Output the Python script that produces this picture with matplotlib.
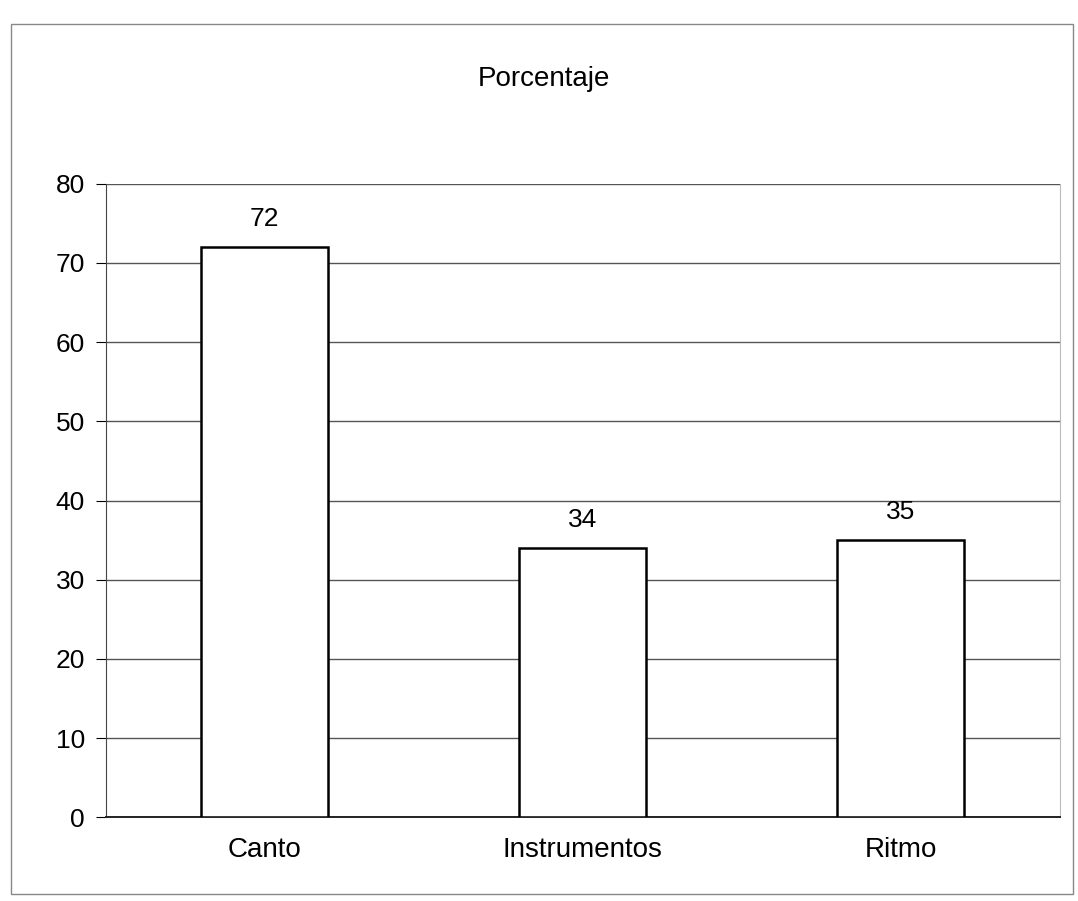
import matplotlib.pyplot as plt
from matplotlib.patches import Rectangle

plt.rcParams['font.family'] = ['Liberation Sans', 'DejaVu Sans']

categories = ['Canto', 'Instrumentos', 'Ritmo']
values = [72, 34, 35]
y_ticks = [0, 10, 20, 30, 40, 50, 60, 70, 80]

fig = plt.figure(figsize=(10.78, 9.01), dpi=100)
ax = fig.add_axes([0.098, 0.093, 0.885, 0.703])

# outer chart frame
fig.patches.append(Rectangle((0.01, 0.008), 0.985, 0.965, transform=fig.transFigure,
                             fill=False, edgecolor='#888888', linewidth=1.0))

x = range(len(categories))
bars = ax.bar(x, values, width=0.4, color='white', edgecolor='black', linewidth=1.8, zorder=3)
for xi, v in zip(x, values):
    ax.text(xi, v + 2.0, str(v), ha='center', va='bottom', fontsize=19)

ax.set_xlim(-0.5, 2.5)
ax.set_ylim(0, 80)
ax.set_yticks(y_ticks)
ax.set_xticks(list(x))
ax.set_xticklabels(categories)
ax.tick_params(axis='y', labelsize=19, length=7, direction='out', pad=8)
ax.tick_params(axis='x', labelsize=20, length=0, pad=14)
ax.yaxis.grid(True, color='#555555', linewidth=1.0, zorder=0)
ax.set_axisbelow(True)

ax.spines['left'].set_color('#444444')
ax.spines['bottom'].set_color('#222222')
ax.spines['bottom'].set_linewidth(1.4)
ax.spines['top'].set_visible(False)
ax.spines['right'].set_color('#bbbbbb')

fig.text(0.505, 0.912, 'Porcentaje', ha='center', va='center', fontsize=20)

fig.savefig('out.png', dpi=100)
